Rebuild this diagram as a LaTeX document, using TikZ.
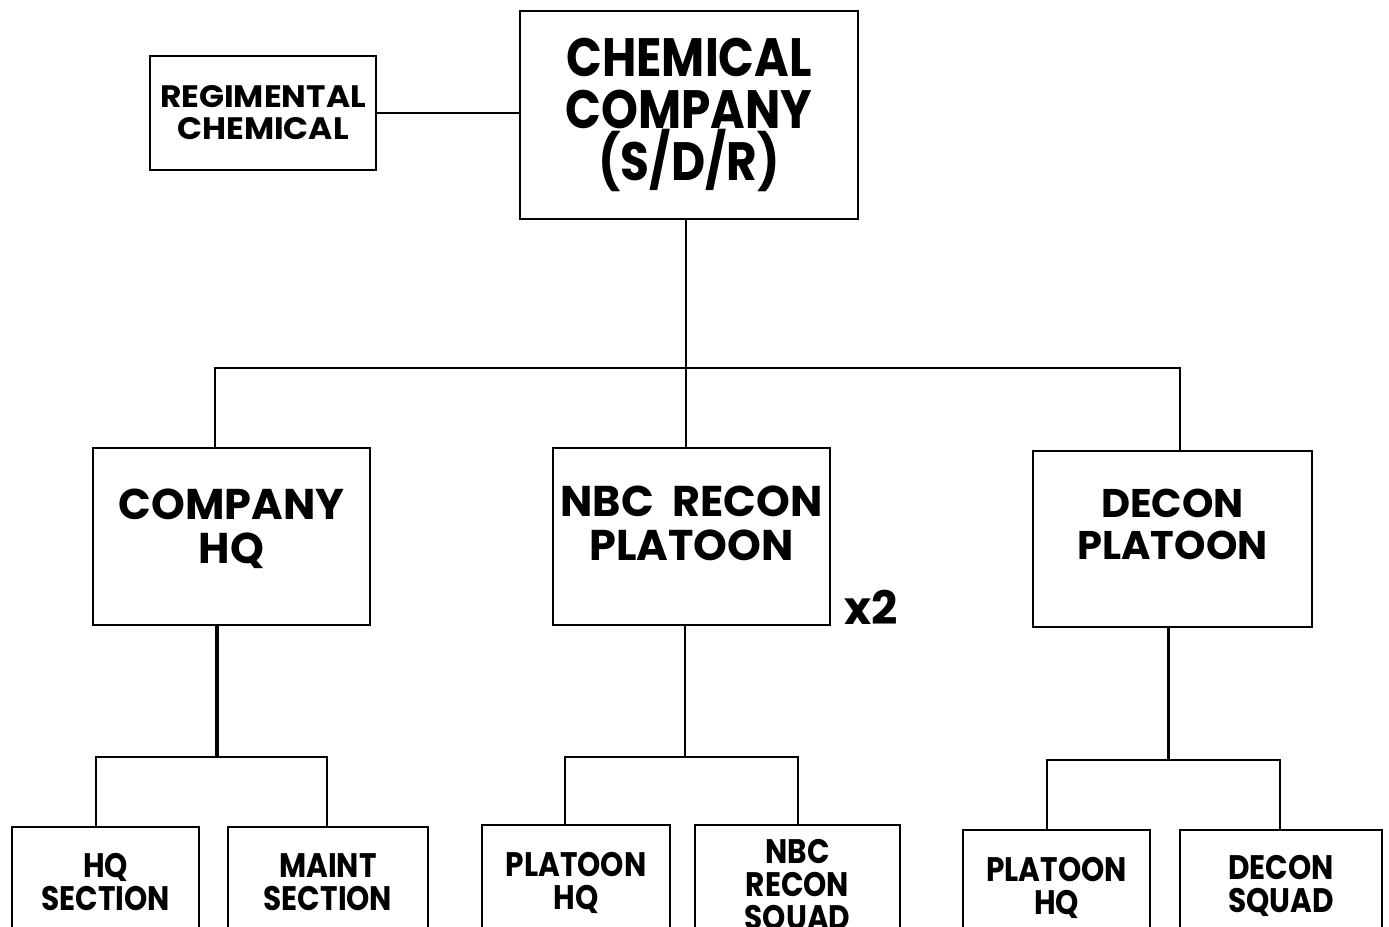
\documentclass[tikz,border=0pt]{standalone}
\usepackage{fontspec}
\setmainfont{Poppins}[FakeStretch=0.87]
\newfontfamily\midfont{Poppins}[FakeStretch=1.0]
\newfontfamily\regfont{Poppins}[FakeStretch=1.06]
\begin{document}
\begin{tikzpicture}[x=1pt,y=-1pt,
  box/.style={draw, line width=2pt, align=center, inner sep=0pt},
  conn/.style={line width=2pt},
  thickconn/.style={line width=4pt},
  ftop/.style={font=\bfseries\fontsize{54}{52}\selectfont},
  freg/.style={font=\regfont\bfseries\fontsize{31}{32}\selectfont},
  fmid/.style={font=\midfont\bfseries\fontsize{43}{44}\selectfont},
  fdec/.style={font=\midfont\bfseries\fontsize{40}{42}\selectfont},
  fbot/.style={font=\bfseries\fontsize{34}{33}\selectfont}]
\useasboundingbox (0,0) rectangle (1389,926);
\clip (0,0) rectangle (1389,926);
% top level
\node[box, ftop, minimum width=338pt, minimum height=208pt] (cc) at (689,115) {CHEMICAL\\COMPANY\\(S/D/R)};
\node[box, freg, minimum width=226pt, minimum height=114pt] (reg) at (263,113) {REGIMENTAL\\CHEMICAL};
% middle level
\node[box, fmid, text depth=20pt, minimum width=277pt, minimum height=177pt] (chq) at (231.5,536.5) {COMPANY\\HQ};
\node[box, fmid, text depth=27pt, minimum width=277pt, minimum height=177pt] (nbc) at (691.5,536.5) {NBC\ \ RECON\\PLATOON};
\node[box, fdec, text depth=30pt, minimum width=279pt, minimum height=176pt] (dec) at (1172.5,539) {DECON\\PLATOON};
\node[font=\midfont\bfseries\fontsize{46}{46}\selectfont] (x2) at (871,607) {x2};
% bottom level
\node[box, fbot, minimum width=187pt, minimum height=110pt] (hqs) at (105.5,882) {HQ\\SECTION};
\node[box, fbot, minimum width=200pt, minimum height=110pt] (mnt) at (328,882) {MAINT\\SECTION};
\node[box, fbot, minimum width=188pt, minimum height=116pt] (phq) at (576,883) {PLATOON\\HQ};
\node[box, fbot, minimum width=205pt, minimum height=122pt] (nrs) at (797.5,886) {NBC\\RECON\\SQUAD};
\node[box, fbot, minimum width=187pt, minimum height=116pt] (dphq) at (1056.5,888) {PLATOON\\HQ};
\node[box, fbot, minimum width=202pt, minimum height=112pt] (dsq) at (1281,886) {DECON\\SQUAD};
% connectors
\draw[conn] (reg.east) -- (reg.east -| cc.west);
\coordinate (bus) at (0,368);
\draw[conn] ([xshift=-3pt]cc.south) -- ([xshift=-3pt]cc.south |- bus);
\draw[conn] ([xshift=-16.5pt]chq.north) -- ([xshift=-16.5pt]chq.north |- bus) -- ([xshift=7.5pt]dec.north |- bus) -- ([xshift=7.5pt]dec.north);
\draw[conn] ([xshift=-5.5pt]nbc.north) -- ([xshift=-5.5pt]nbc.north |- bus);
% company HQ subtree
\coordinate (busa) at (0,757);
\draw[thickconn] ([xshift=-14.5pt]chq.south) -- ([xshift=-14.5pt]chq.south |- busa);
\draw[conn] ([xshift=-9.5pt]hqs.north) -- ([xshift=-9.5pt]hqs.north |- busa) -- ([xshift=-1pt]mnt.north |- busa) -- ([xshift=-1pt]mnt.north);
% NBC subtree
\draw[conn] ([xshift=-6.5pt]nbc.south) -- ([xshift=-6.5pt]nbc.south |- busa);
\draw[conn] ([xshift=-11pt]phq.north) -- ([xshift=-11pt]phq.north |- busa) -- (nrs.north |- busa) -- (nrs.north);
% Decon subtree
\coordinate (busc) at (0,760);
\draw[line width=3pt] ([xshift=-4.5pt]dec.south) -- ([xshift=-4.5pt]dec.south |- busc);
\draw[conn] ([xshift=-9.5pt]dphq.north) -- ([xshift=-9.5pt]dphq.north |- busc) -- ([xshift=-1pt]dsq.north |- busc) -- ([xshift=-1pt]dsq.north);
\end{tikzpicture}
\end{document}
